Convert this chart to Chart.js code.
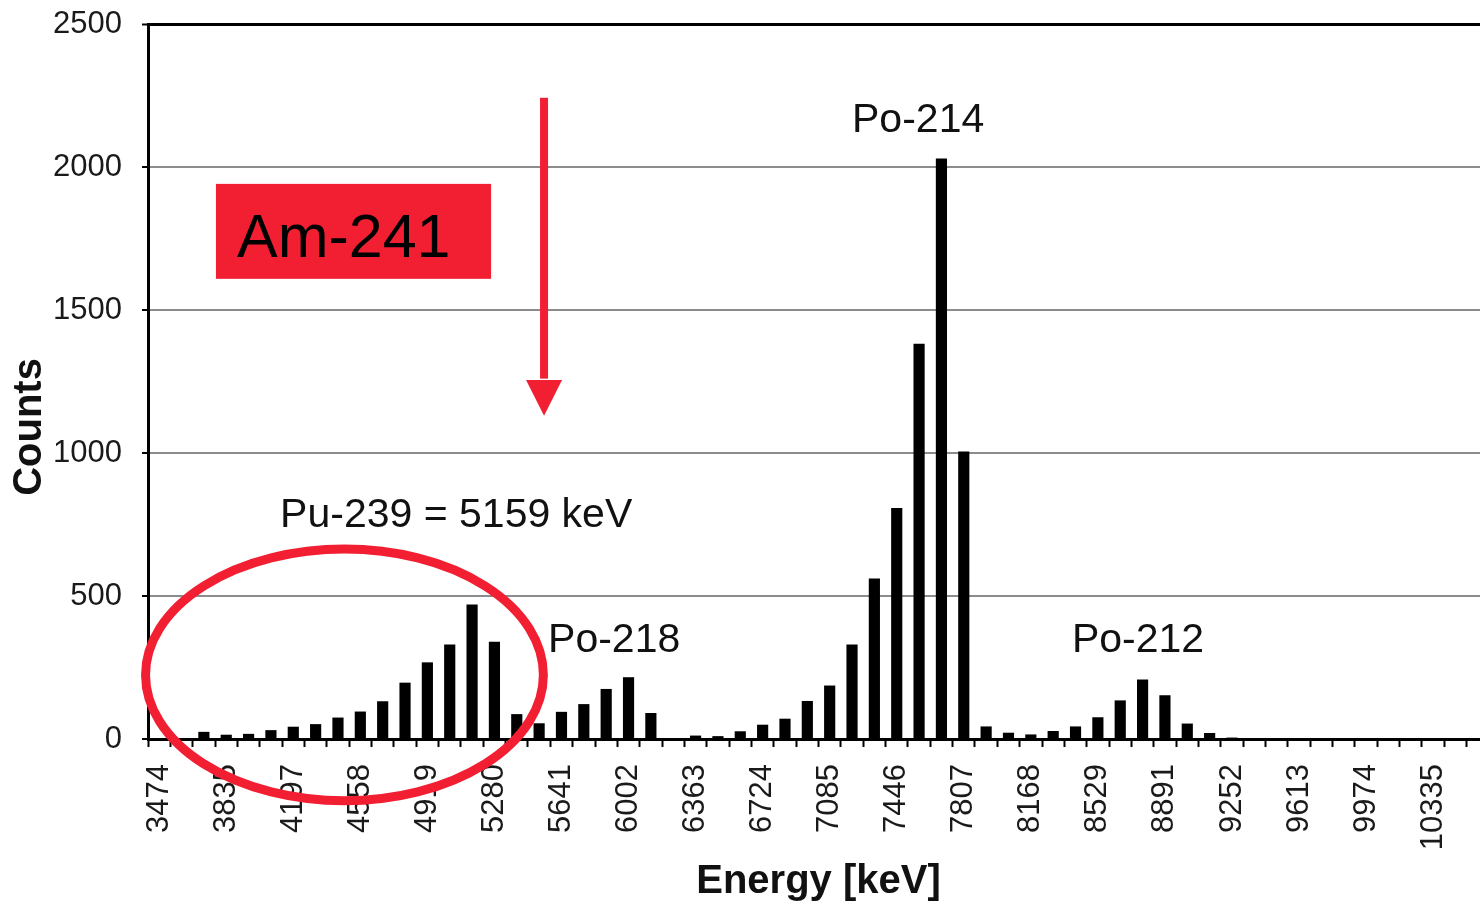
<!DOCTYPE html>
<html>
<head>
<meta charset="utf-8">
<script src="https://cdn.jsdelivr.net/npm/chart.js@4.4.1/dist/chart.umd.min.js"></script>
<style>
  html, body { margin: 0; padding: 0; background: #fff; overflow: hidden; }
  #wrap { width: 1495px; height: 906px; position: relative; }
</style>
</head>
<body>
<div id="wrap"><canvas id="spectrum"></canvas></div>
<script>
// energy labels printed under every third bin
const tickEnergies = [3474, 3835, 4197, 4558, 4919, 5280, 5641, 6002, 6363, 6724,
  7085, 7446, 7807, 8168, 8529, 8891, 9252, 9613, 9974, 10335];

// counts per bin
const counts = [
  0, 0, 25, 15, 18, 31, 43, 52, 75, 96,
  132, 197, 268, 330, 470, 340, 87, 55, 95, 122,
  175, 216, 91, 0, 12, 10, 27, 50, 71, 133,
  187, 330, 561, 808, 1382, 2030, 1005, 44, 22, 16,
  28, 44, 76, 135, 208, 153, 54, 21, 5, 0,
  0, 0, 0, 0, 0, 0, 0, 0, 0, 0
];

const categories = counts.map((c, i) => (i % 3 === 0 ? String(tickEnergies[i / 3]) : ""));

const FONT = "'Liberation Sans', Arial, sans-serif";
const RED = "#f21f33";

// red marks and peak labels drawn on top of the chart
const overlay = {
  id: "overlay",
  afterDraw(chart) {
    const { ctx, scales: { x, y } } = chart;
    const px = (i) => x.getPixelForValue(i);
    const py = (v) => y.getPixelForValue(v);
    ctx.save();

    // ellipse round the Pu-239 region
    const cx = px(8.29), cy = py(224);
    ctx.strokeStyle = RED;
    ctx.lineWidth = 9;
    ctx.beginPath();
    ctx.ellipse(cx, cy, px(8.29 + 8.9) - cx, cy - py(224 + 440), 0, 0, Math.PI * 2);
    ctx.stroke();

    // Am-241 box
    ctx.fillStyle = RED;
    ctx.fillRect(px(2.54), py(1941), px(14.85) - px(2.54), py(1609) - py(1941));
    ctx.fillStyle = "#000";
    ctx.font = "61px " + FONT;
    ctx.textBaseline = "alphabetic";
    ctx.textAlign = "left";
    ctx.fillText("Am-241", px(3.48), py(1686));

    // arrow
    const ax = px(17.22);
    ctx.fillStyle = RED;
    ctx.fillRect(ax - 4, py(2242), 8, py(1260) - py(2242));
    ctx.beginPath();
    ctx.moveTo(ax - 18, py(1255));
    ctx.lineTo(ax + 18, py(1255));
    ctx.lineTo(ax, py(1130));
    ctx.closePath();
    ctx.fill();

    // peak labels
    ctx.fillStyle = "#111";
    ctx.font = "41px " + FONT;
    ctx.fillText("Pu-239 = 5159 keV", px(5.41), py(741));
    ctx.fillText("Po-218", px(17.4), py(304));
    ctx.fillText("Po-214", px(31.0), py(2124));
    ctx.fillText("Po-212", px(40.84), py(304));

    // y axis title
    ctx.translate(y.left + 30, py(1091));
    ctx.rotate(-Math.PI / 2);
    ctx.textAlign = "center";
    ctx.textBaseline = "middle";
    ctx.font = "bold 40px " + FONT;
    ctx.fillText("Counts", 0, 0);
    ctx.restore();
  }
};

new Chart(document.getElementById("spectrum"), {
  type: "bar",
  data: {
    labels: categories,
    datasets: [
      {
        label: "Counts",
        data: counts,
        backgroundColor: "#000",
        barPercentage: 0.5,
        categoryPercentage: 1.0,
      },
    ],
  },
  options: {
    responsive: true,
    maintainAspectRatio: false,
    animation: false,
    layout: { padding: { top: 24, right: 6, left: 0, bottom: 0 } },
    plugins: {
      legend: { display: false },
      tooltip: { enabled: false },
    },
    scales: {
      x: {
        grid: { drawOnChartArea: false, drawTicks: true, tickLength: 8, tickColor: "#000", tickWidth: 2 },
        border: { color: "#000", width: 3 },
        ticks: {
          autoSkip: false,
          maxRotation: 90,
          minRotation: 90,
          padding: 17,
          color: "#1a1a1a",
          font: { family: FONT, size: 31 },
        },
        title: {
          display: true,
          text: "Energy [keV]",
          color: "#111",
          font: { family: FONT, size: 40, weight: "bold" },
          padding: { top: 0, bottom: 0 },
        },
        afterFit(scale) {
          scale.height = 167;
          scale.paddingLeft = 0;
          scale.paddingRight = 0;
        },
      },
      y: {
        min: 0,
        max: 2500,
        ticks: {
          stepSize: 500,
          padding: 20,
          color: "#1a1a1a",
          font: { family: FONT, size: 31 },
          callback: (v) => String(v),
        },
        grid: {
          color: (c) => (c.tick && c.tick.value === 2500 ? "#000" : "#8c8c8c"),
          lineWidth: (c) => (c.tick && c.tick.value === 2500 ? 3 : 2),
          tickLength: 6,
          tickColor: "#000",
          tickWidth: 2,
        },
        border: { color: "#000", width: 3 },
        afterFit(scale) {
          scale.width = 148;
          scale.paddingTop = 0;
          scale.paddingBottom = 0;
        },
      },
    },
  },
  plugins: [overlay],
});
</script>
</body>
</html>
